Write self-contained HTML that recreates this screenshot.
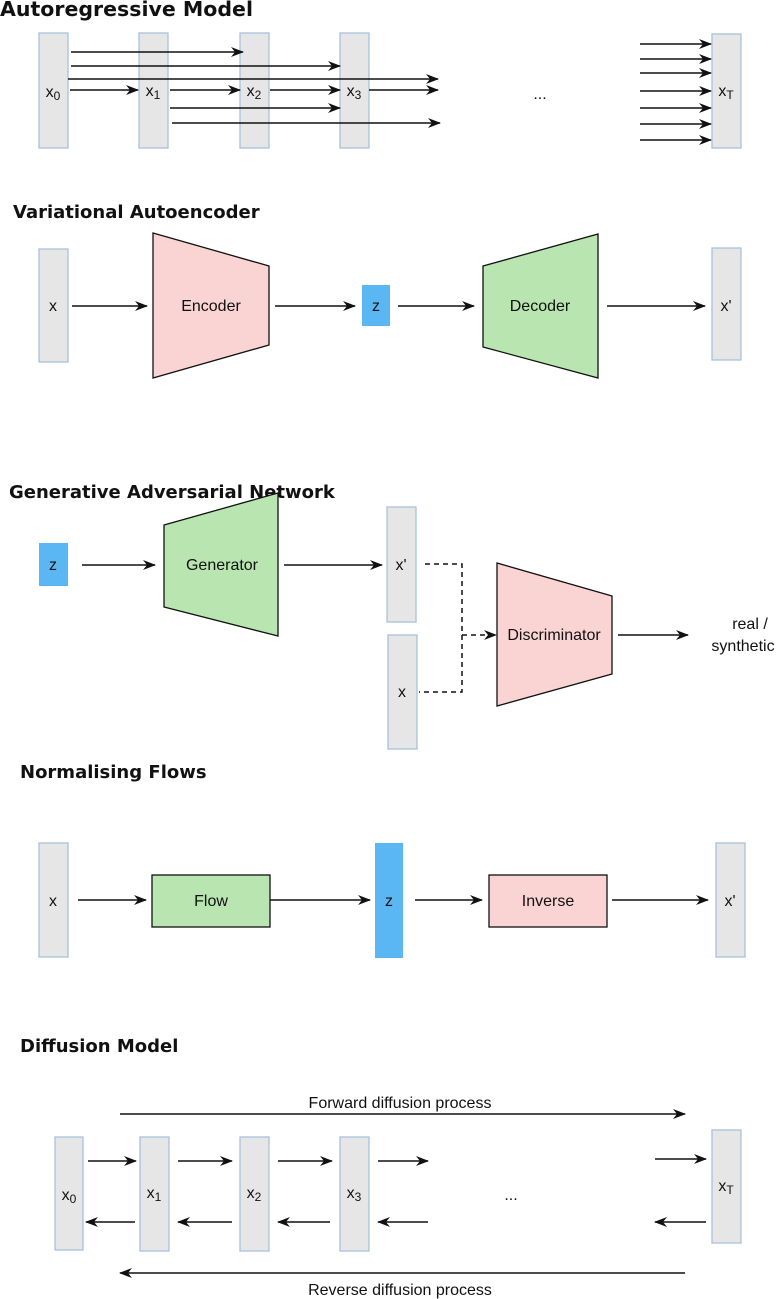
<!DOCTYPE html>
<html><head><meta charset="utf-8"><style>
html,body{margin:0;padding:0;background:#fff}
svg{display:block}
text{font-family:"Liberation Sans",Arial,sans-serif;fill:#111}
.t{font-family:"DejaVu Sans",sans-serif;font-weight:bold;font-size:18px}
.b{fill:#e6e6e6;stroke:#a9c0dc;stroke-width:1.3}
.l{stroke:#111;stroke-width:1.5;fill:none}
.n{font-size:16px;text-anchor:middle}
</style></head><body>
<svg width="778" height="1299" viewBox="0 0 778 1299" xmlns="http://www.w3.org/2000/svg">
<defs><marker id="a" markerWidth="13" markerHeight="10" refX="12" refY="5" orient="auto" markerUnits="userSpaceOnUse"><path d="M0,0 L13,5 L0,10 L4,5 Z" fill="#111"/></marker></defs>

<!-- Autoregressive -->
<text class="t" x="0" y="16" style="font-size:20.5px">Autoregressive Model</text>
<rect class="b" x="39" y="33" width="29" height="115"/>
<rect class="b" x="139" y="33" width="29" height="115"/>
<rect class="b" x="240" y="33" width="29" height="115"/>
<rect class="b" x="340" y="33" width="29" height="115"/>
<rect class="b" x="712" y="34" width="29" height="114"/>
<g class="l" marker-end="url(#a)">
<path d="M71 52H243"/><path d="M71 66H340"/><path d="M68 79H438"/>
<path d="M70 90H138"/><path d="M170 90H240"/><path d="M270 90H340"/><path d="M369 90H438"/>
<path d="M170 108H340"/><path d="M172 123H440"/>
<path d="M640 44H711"/><path d="M640 59H711"/><path d="M640 73H711"/><path d="M640 91H711"/><path d="M640 108H711"/><path d="M640 124H711"/><path d="M640 140H711"/>
</g>
<text class="n" x="53" y="97">x<tspan font-size="12" dy="3">0</tspan></text>
<text class="n" x="153" y="96">x<tspan font-size="12" dy="3">1</tspan></text>
<text class="n" x="254" y="96">x<tspan font-size="12" dy="3">2</tspan></text>
<text class="n" x="354" y="96">x<tspan font-size="12" dy="3">3</tspan></text>
<text class="n" x="726" y="96">x<tspan font-size="12" dy="3">T</tspan></text>
<text class="n" x="540" y="99">...</text>

<!-- VAE -->
<text class="t" x="13" y="218">Variational Autoencoder</text>
<rect class="b" x="39" y="249" width="29" height="113"/>
<text class="n" x="53" y="311">x</text>
<polygon points="153,233 269,266 269,345 153,378" fill="#fad3d3" stroke="#111" stroke-width="1.3"/>
<text class="n" x="211" y="311">Encoder</text>
<rect x="362" y="285" width="28" height="41" fill="#5ab7f3"/>
<text class="n" x="376" y="311">z</text>
<polygon points="483,266 598,234 598,378 483,347" fill="#b8e5b0" stroke="#111" stroke-width="1.3"/>
<text class="n" x="540" y="311">Decoder</text>
<rect class="b" x="712" y="248" width="29" height="112"/>
<text class="n" x="726" y="311">x'</text>
<g class="l" marker-end="url(#a)">
<path d="M72 306H147"/><path d="M275 306H355"/><path d="M398 306H474"/><path d="M607 306H705"/>
</g>

<!-- GAN -->
<text class="t" x="9" y="498">Generative Adversarial Network</text>
<rect x="39" y="543" width="29" height="43" fill="#5ab7f3"/>
<text class="n" x="53" y="570">z</text>
<polygon points="164,525 278,493 278,636 164,607" fill="#b8e5b0" stroke="#111" stroke-width="1.3"/>
<text class="n" x="222" y="570">Generator</text>
<rect class="b" x="387" y="507" width="29" height="115"/>
<text class="n" x="401" y="570">x'</text>
<rect class="b" x="388" y="635" width="29" height="114"/>
<text class="n" x="402" y="697">x</text>
<polygon points="497,563 612,596 612,674 497,706" fill="#fad3d3" stroke="#111" stroke-width="1.3"/>
<text class="n" x="554" y="640">Discriminator</text>
<g class="l" marker-end="url(#a)">
<path d="M82 565H155"/><path d="M284 565H382"/><path d="M618 635H688"/>
</g>
<path class="l" stroke-dasharray="5,4" d="M425 564H462V692H419"/>
<path class="l" stroke-dasharray="5,4" d="M462 635H496" marker-end="url(#a)"/>
<text class="n" x="750" y="629">real /</text>
<text class="n" x="743" y="651">synthetic</text>

<!-- Normalising flows -->
<text class="t" x="20" y="778">Normalising Flows</text>
<rect class="b" x="39" y="843" width="29" height="114"/>
<text class="n" x="53" y="906">x</text>
<rect x="152" y="875" width="118" height="52" fill="#b8e5b0" stroke="#111" stroke-width="1.3"/>
<text class="n" x="211" y="906">Flow</text>
<rect x="375" y="843" width="28" height="115" fill="#5ab7f3"/>
<text class="n" x="389" y="906">z</text>
<rect x="489" y="875" width="118" height="52" fill="#fad3d3" stroke="#111" stroke-width="1.3"/>
<text class="n" x="548" y="906">Inverse</text>
<rect class="b" x="716" y="843" width="29" height="114"/>
<text class="n" x="730" y="906">x'</text>
<g class="l" marker-end="url(#a)">
<path d="M78 900H146"/><path d="M270 900H370"/><path d="M415 900H482"/><path d="M612 900H708"/>
</g>

<!-- Diffusion -->
<text class="t" x="20" y="1052">Diffusion Model</text>
<text class="n" x="400" y="1108">Forward diffusion process</text>
<text class="n" x="400" y="1295">Reverse diffusion process</text>
<rect class="b" x="55" y="1137" width="28" height="113"/>
<rect class="b" x="140" y="1137" width="29" height="114"/>
<rect class="b" x="240" y="1137" width="29" height="114"/>
<rect class="b" x="340" y="1137" width="29" height="114"/>
<rect class="b" x="712" y="1130" width="29" height="113"/>
<text class="n" x="69" y="1200">x<tspan font-size="12" dy="3">0</tspan></text>
<text class="n" x="154" y="1198">x<tspan font-size="12" dy="3">1</tspan></text>
<text class="n" x="254" y="1198">x<tspan font-size="12" dy="3">2</tspan></text>
<text class="n" x="354" y="1198">x<tspan font-size="12" dy="3">3</tspan></text>
<text class="n" x="726" y="1191">x<tspan font-size="12" dy="3">T</tspan></text>
<text class="n" x="511" y="1200">...</text>
<g class="l" marker-end="url(#a)">
<path d="M120 1114H685"/><path d="M685 1273H120"/>
<path d="M88 1161H136"/><path d="M178 1161H232"/><path d="M278 1161H332"/><path d="M378 1161H428"/><path d="M655 1159H706"/>
<path d="M135 1222H86"/><path d="M232 1222H178"/><path d="M330 1222H278"/><path d="M428 1222H378"/><path d="M706 1222H655"/>
</g>
</svg>
</body></html>
